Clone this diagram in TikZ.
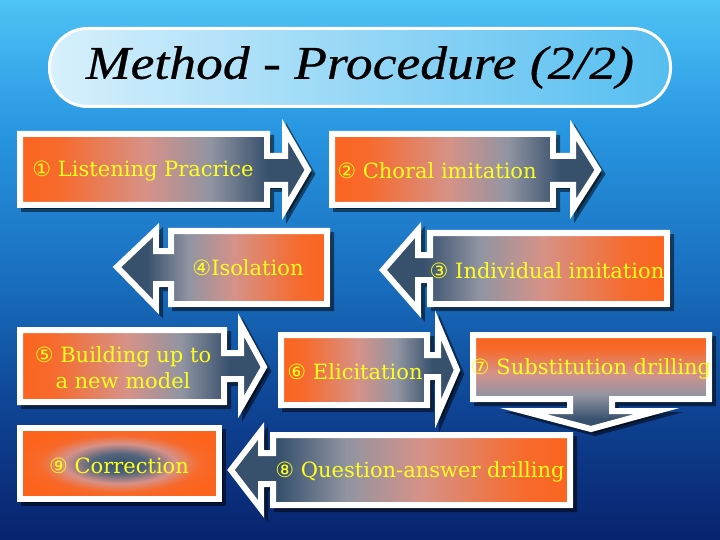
\documentclass[tikz,border=0pt]{standalone}
\usepackage{fontspec}
\setmainfont{DejaVu Serif}
\newfontfamily\circfont{DejaVu Sans}
\newfontfamily\titlefont[FakeStretch=1.14, FakeBold=0.6]{Liberation Serif}
\definecolor{bgA}{RGB}{78,195,245}
\definecolor{bgB}{RGB}{40,150,225}
\definecolor{bgC}{RGB}{25,110,190}
\definecolor{bgD}{RGB}{15,70,150}
\definecolor{bgE}{RGB}{8,35,110}
\definecolor{orC}{RGB}{252,100,30}
\definecolor{pkC}{RGB}{214,146,136}
\definecolor{gyC}{RGB}{145,148,162}
\definecolor{slC}{RGB}{55,80,108}
\definecolor{txtC}{RGB}{255,255,30}
\definecolor{tlL}{RGB}{215,240,252}
\definecolor{tlR}{RGB}{85,190,240}
\pgfdeclareverticalshading{bgsh}{100bp}{color(0bp)=(bgE); color(25bp)=(bgE); color(38bp)=(bgD); color(49bp)=(bgC); color(63bp)=(bgB); color(75bp)=(bgA); color(100bp)=(bgA)}
\pgfdeclarehorizontalshading{shR}{100bp}{color(0bp)=(orC); color(25bp)=(orC); color(32bp)=(orC!85!pkC); color(47bp)=(pkC); color(58bp)=(gyC); color(68bp)=(slC); color(100bp)=(slC)}
\pgfdeclarehorizontalshading{shL}{100bp}{color(0bp)=(slC); color(32bp)=(slC); color(42bp)=(gyC); color(53bp)=(pkC); color(68bp)=(orC!85!pkC); color(75bp)=(orC); color(100bp)=(orC)}
\pgfdeclareverticalshading{shD}{100bp}{color(0bp)=(slC); color(30bp)=(slC); color(43bp)=(gyC); color(55bp)=(pkC); color(68bp)=(orC!90!pkC); color(75bp)=(orC); color(100bp)=(orC)}
\pgfdeclareradialshading{shC}{\pgfpoint{0bp}{0bp}}{color(0bp)=(slC); color(7bp)=(slC!70!gyC); color(14bp)=(pkC); color(20bp)=(orC!88!pkC); color(25bp)=(orC); color(50bp)=(orC)}
\newcommand\stepshape[2]{%
  \path[shadowsty] #2;
  \path[shading=#1, draw=white, line width=6pt, line join=miter] #2;}
\tikzset{
  shadowsty/.style={fill=black, draw=black, line width=6pt, opacity=0.5, shift={(4pt,-4pt)}},
  lbl/.style={text=txtC, font=\fontsize{21}{26}\selectfont, inner sep=0pt, align=center},
  titlebox/.style={draw=white, line width=3pt, rounded corners=38pt, left color=tlL, right color=tlR,
     minimum width=621pt, minimum height=78pt, font=\titlefont\itshape\fontsize{47}{50}\selectfont}
}
\newcommand\cd[1]{{\circfont #1}}
\begin{document}
\begin{tikzpicture}[x=1pt,y=-1pt]
\useasboundingbox (0,0) rectangle (720,540);
\path[shading=bgsh] (0,0) rectangle (720,540);
% title
\node[titlebox] (title) at (360,67.5) {Method - Procedure (2/2)};
% 1
\stepshape{shR}{(20,134) -- (267,134) -- (267,156) -- (285,156) -- (285,130) -- (308,170) -- (285,209) -- (285,185) -- (267,185) -- (267,205) -- (20,205) -- cycle}
% 2
\stepshape{shR}{(332,134) -- (553,134) -- (553,156) -- (573,156) -- (573,130) -- (598,170) -- (573,209) -- (573,185) -- (553,185) -- (553,205) -- (332,205) -- cycle}
% 4
\stepshape{shL}{(327,231) -- (171,231) -- (171,251) -- (156,251) -- (156,230) -- (117,267) -- (156,307) -- (156,284) -- (171,284) -- (171,304) -- (327,304) -- cycle}
% 3
\stepshape{shL}{(667,233) -- (430,233) -- (430,255) -- (418,255) -- (418,230) -- (383,270) -- (418,310) -- (418,280) -- (430,280) -- (430,304) -- (667,304) -- cycle}
% 5
\stepshape{shR}{(20,330) -- (224,330) -- (224,353) -- (241,353) -- (241,325) -- (264,367) -- (241,407) -- (241,379) -- (224,379) -- (224,402) -- (20,402) -- cycle}
% 6
\stepshape{shR}{(281,335) -- (427,335) -- (427,355) -- (438,355) -- (438,325) -- (457,370) -- (438,414) -- (438,377) -- (427,377) -- (427,405) -- (281,405) -- cycle}
% 7
\stepshape{shD}{(473,335) -- (709,335) -- (709,399) -- (612,399) -- (612,411) -- (657,411) -- (591,429) -- (523,411) -- (570,411) -- (570,399) -- (473,399) -- cycle}
% 8
\stepshape{shL}{(570,435) -- (273,435) -- (273,453) -- (261,453) -- (261,431) -- (231,470) -- (261,509) -- (261,484) -- (273,484) -- (273,505) -- (570,505) -- cycle}
% 9
\stepshape{shC}{(20,428) -- (219,428) -- (219,499) -- (20,499) -- cycle}
% labels
\node[lbl] (n1) at (143,171) {\cd{①} Listening Pracrice};
\node[lbl] (n2) at (437,171) {\cd{②} Choral imitation};
\node[lbl] (n3) at (547,271) {\cd{③} Individual imitation};
\node[lbl] (n4) at (248,268) {\cd{④}Isolation};
\node[lbl] (n5) at (123,368) {\cd{⑤} Building up to\\a new model};
\node[lbl] (n6) at (355,372) {\cd{⑥} Elicitation};
\node[lbl] (n7) at (591,369) {\cd{⑦} Substitution drilling};
\node[lbl] (n8) at (420,472) {\cd{⑧} Question-answer drilling};
\node[lbl] (n9) at (119,466) {\cd{⑨} Correction};
\end{tikzpicture}
\end{document}
